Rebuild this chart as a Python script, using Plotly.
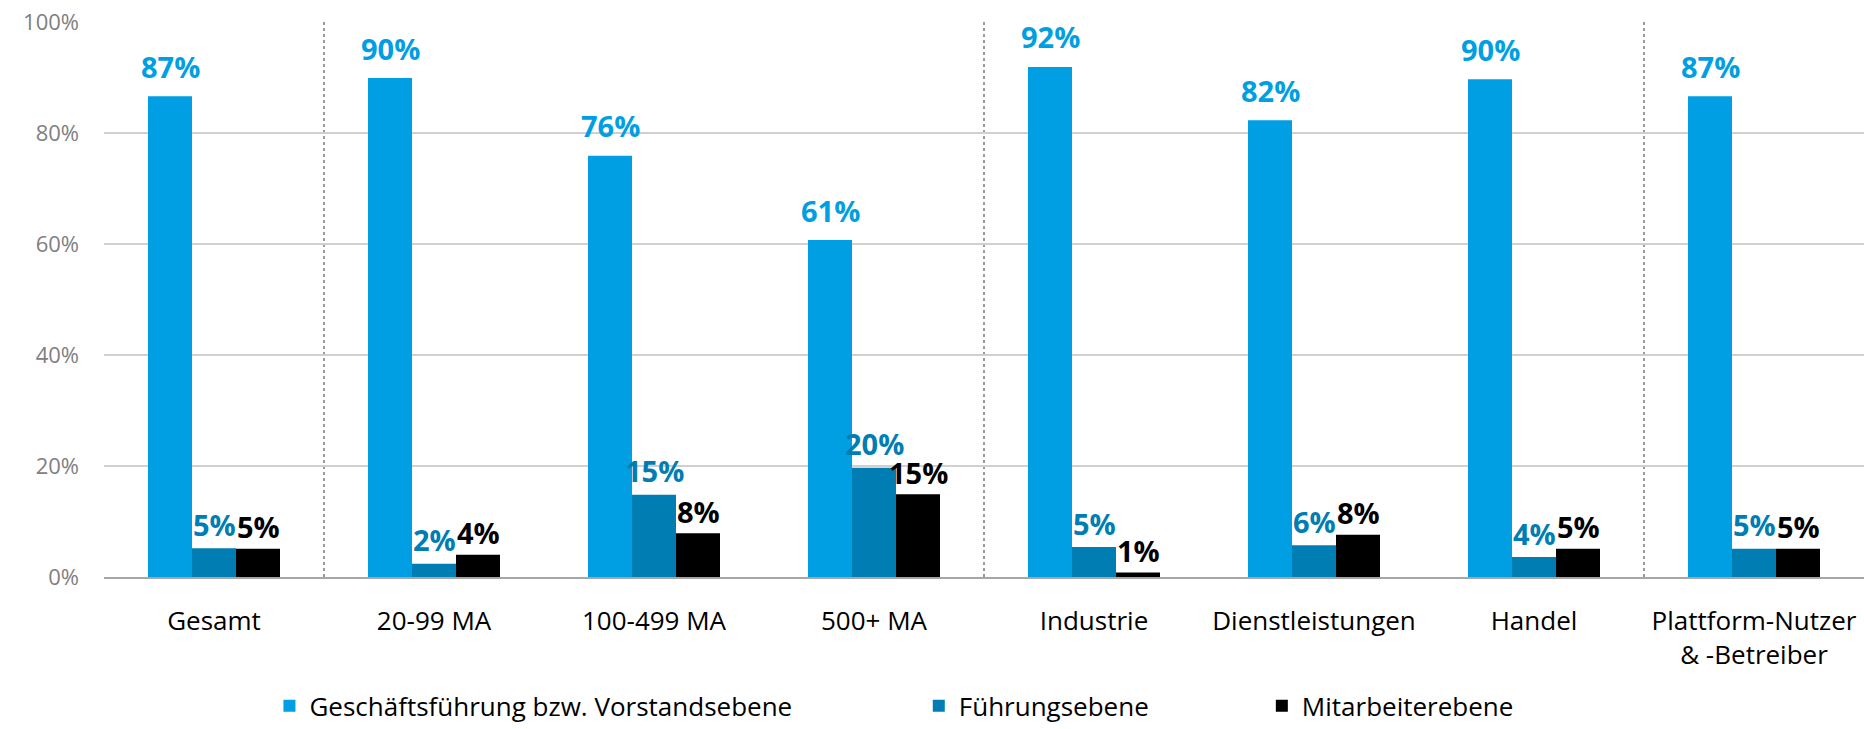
import plotly.graph_objects as go

categories = ["Gesamt", "20-99 MA", "100-499 MA", "500+ MA", "Industrie",
              "Dienstleistungen", "Handel", "Plattform-Nutzer<br>& -Betreiber"]
series_names = ["Geschäftsführung bzw. Vorstandsebene", "Führungsebene", "Mitarbeiterebene"]
geschaeftsfuehrung = [86.6, 89.9, 75.9, 60.7, 91.9, 82.3, 89.7, 86.6]
fuehrungsebene = [5.2, 2.4, 14.8, 19.7, 5.4, 5.7, 3.6, 5.1]
mitarbeiterebene = [5.1, 4.0, 7.9, 14.9, 0.8, 7.6, 5.1, 5.1]
y_ticks = [0, 20, 40, 60, 80, 100]
divider_positions = [0.5, 3.5, 6.5]

colors = ["#009FE3", "#007DB3", "#000000"]
label_shift = [30, 24, 22]
font_family = "Open Sans, Noto Sans, sans-serif"
legend_names = [series_names[0] + "\u00a0" * 18, series_names[1] + "\u00a0" * 16, series_names[2]]

bargap = 0.4
bar_w = (1 - bargap) / 3

fig = go.Figure()
annotations = []
series = [geschaeftsfuehrung, fuehrungsebene, mitarbeiterebene]
for s_idx, (vals, name, col) in enumerate(zip(series, legend_names, colors)):
    fig.add_trace(go.Bar(
        x=categories, y=vals, name=name,
        marker=dict(color=col, line=dict(width=0)),
    ))
    for c_idx, v in enumerate(vals):
        annotations.append(dict(
            x=c_idx + (s_idx - 1) * bar_w, y=v, xref="x", yref="y",
            text=f"{v:.0f}%", showarrow=False, yanchor="middle", xanchor="center",
            yshift=label_shift[s_idx],
            font=dict(family=font_family, size=29, color=col, weight="bold"),
        ))

for xp in divider_positions:
    fig.add_shape(type="line", xref="x", yref="paper", x0=xp, x1=xp, y0=0, y1=1,
                  line=dict(color="#9a9a9a", width=2, dash="dot"), layer="below")

fig.update_layout(
    width=1864, height=729,
    margin=dict(l=104, r=0, t=22, b=152, autoexpand=False),
    paper_bgcolor="white", plot_bgcolor="white",
    barmode="group", bargap=bargap, bargroupgap=0,
    font=dict(family=font_family),
    showlegend=True,
    annotations=annotations,
    legend=dict(orientation="h", x=0.094, xanchor="left", y=-0.232, yanchor="middle",
                font=dict(family=font_family, size=26, color="#000000"),
                traceorder="normal", itemwidth=30),
    xaxis=dict(
        type="category", showgrid=False, showline=True, linecolor="#a6a6a6", linewidth=2,
        ticks="", tickfont=dict(family=font_family, size=26, color="#000000"),
        ticklabelstandoff=20, automargin=False,
    ),
    yaxis=dict(
        range=[0, 100], tickmode="array", tickvals=y_ticks,
        ticktext=[f"{t}%" for t in y_ticks], showgrid=True,
        gridcolor="#d0d0d0", gridwidth=2, zeroline=False, showline=False, ticks="",
        tickfont=dict(family=font_family, size=22, color="#808080"),
        ticklabelstandoff=24, automargin=False,
    ),
)

fig.write_html("out.html", config={"displayModeBar": False},
               post_script="document.body.style.margin='0px';")
